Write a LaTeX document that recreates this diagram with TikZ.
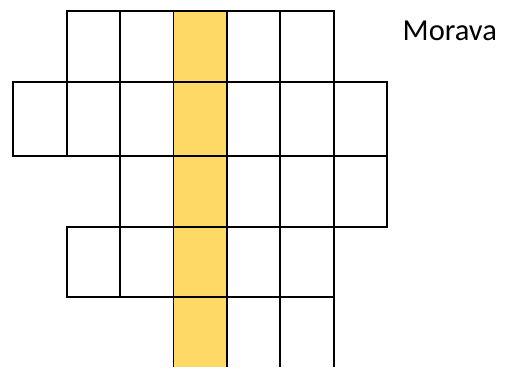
\documentclass[tikz,border=0pt]{standalone}
\usepackage{fontspec}
\setmainfont{Carlito}
\usepackage{xcolor}
\usepackage{tikz}
\definecolor{gold}{HTML}{FFD966}
\tikzset{
  cell/.style={draw=black,line width=1.7pt},
  stripe/.style={fill=gold,draw=none},
  label/.style={font=\fontsize{30.5}{32}\selectfont,anchor=base west,inner sep=0pt}
}

\begin{document}
\begin{tikzpicture}[x=1pt,y=-1pt]
\useasboundingbox (0,0) rectangle (506,367);
\fill[stripe] (173.5,11) rectangle (226.9,367);
% rows: top, bottom, first column, last column
\foreach \ya/\yb/\ca/\cb in {11/81.7/1/5, 81.7/155.7/0/6, 155.7/226.7/2/6, 226.7/297.3/1/5}{
  \foreach \c in {\ca,...,\cb}{
    \draw[cell] ({13.3+53.4*\c},\ya) rectangle ({13.3+53.4*(\c+1)},\yb);
  }
}
% open last row
\foreach \c in {3,...,6}{
  \draw[cell] ({13.3+53.4*\c},297.3) -- ({13.3+53.4*\c},367);
}
\node[label] (morava) at (402.5,40) {Morava};
\end{tikzpicture}
\end{document}
